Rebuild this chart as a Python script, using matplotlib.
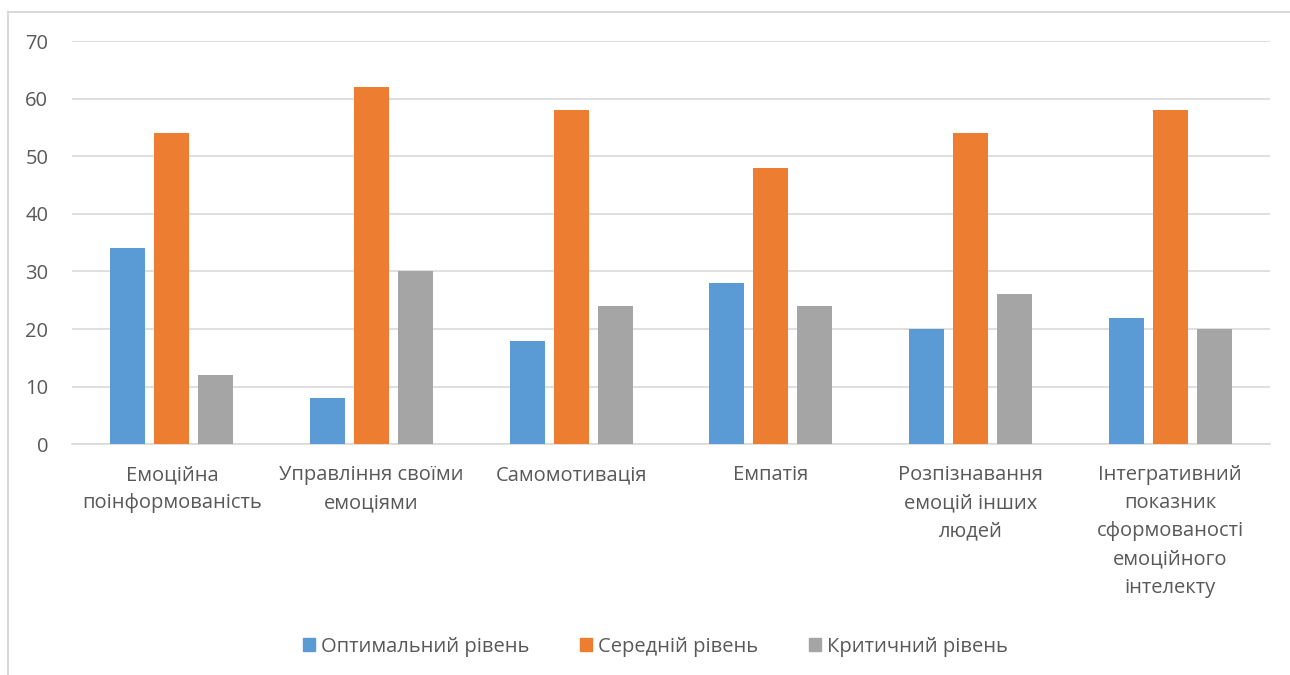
import matplotlib.pyplot as plt
import numpy as np
from matplotlib.lines import Line2D
from matplotlib.patches import Patch

categories = ['Емоційна\nпоінформованість', 'Управління своїми\nемоціями', 'Самомотивація',
              'Емпатія', 'Розпізнавання\nемоцій інших\nлюдей',
              'Інтегративний\nпоказник\nсформованості\nемоційного\nінтелекту']
optimal = [34, 8, 18, 28, 20, 22]
medium = [54, 62, 58, 48, 54, 58]
critical = [12, 30, 24, 24, 26, 20]
series_names = ['Оптимальний рівень', 'Середній рівень', 'Критичний рівень']
colors = ['#5B9BD5', '#ED7D31', '#A5A5A5']

plt.rcParams['font.family'] = ['Open Sans', 'DejaVu Sans']
text_color = '#595959'
fs = 14.5

fig = plt.figure(figsize=(12.9, 6.75), dpi=100)
ax = fig.add_axes([0.0558, 0.342, 0.9287, 0.597])

x = np.arange(len(categories))
w = 0.175
for i, (vals, c) in enumerate(zip([optimal, medium, critical], colors)):
    ax.bar(x + (i - 1) * 0.22, vals, w, color=c, zorder=3)

ax.set_xlim(-0.5, len(categories) - 0.5)
ax.set_ylim(0, 70)
ax.set_yticks(range(0, 71, 10))
ax.grid(axis='y', color='#D9D9D9', linewidth=1.2, zorder=0)
for s in ['top', 'right', 'left']:
    ax.spines[s].set_visible(False)
ax.spines['bottom'].set_color('#D9D9D9')
ax.spines['bottom'].set_linewidth(1.2)
ax.tick_params(axis='both', length=0, colors=text_color, labelsize=fs)
ax.tick_params(axis='y', pad=17)
ax.tick_params(axis='x', pad=15)
ax.set_xticks(x)
ax.set_xticklabels(categories, linespacing=1.55, va='top')

handles = [Patch(color=c) for c in colors]
fig.legend(handles, series_names, loc='center', bbox_to_anchor=(0.508, 0.042), ncol=3,
           frameon=False, fontsize=fs, labelcolor=text_color, handlelength=0.6,
           handleheight=0.6, handletextpad=0.3, columnspacing=2.5)

# chart border (left and top edges visible)
bx = 8 / 1290
by = 1 - 12 / 675
fig.add_artist(Line2D([bx, bx], [0, by], color='#D9D9D9', linewidth=1.5, transform=fig.transFigure))
fig.add_artist(Line2D([bx, 1], [by, by], color='#D9D9D9', linewidth=1.5, transform=fig.transFigure))

fig.savefig('out.png', dpi=100)
